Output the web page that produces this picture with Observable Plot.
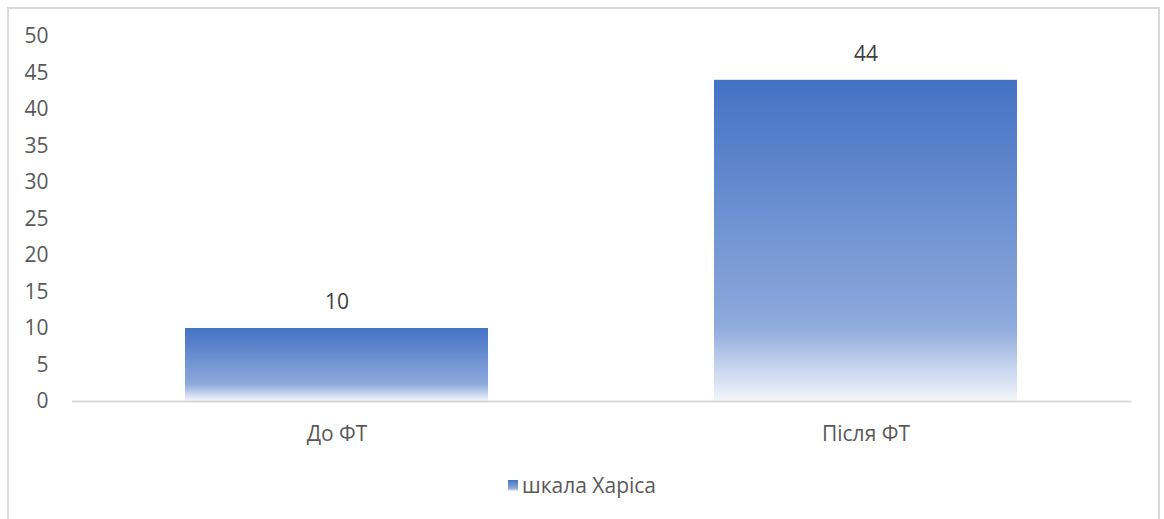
<!DOCTYPE html>
<html>
<head>
<meta charset="utf-8">
<script src="https://cdn.jsdelivr.net/npm/d3@7"></script>
<script src="https://cdn.jsdelivr.net/npm/@observablehq/plot@0.6"></script>
<style>
  html, body { margin: 0; padding: 0; background: #fff; }
  #wrap { position: relative; width: 1164px; height: 519px; overflow: hidden; font-family: "Open Sans", "Noto Sans", sans-serif; }
  #frame { position: absolute; left: 7px; top: 7px; width: 1153px; height: 530px; border: 2px solid #d9d9d9; box-sizing: border-box; }
  #chart { position: absolute; left: 0; top: 0; }
  #legend { position: absolute; left: 0; top: 470px; width: 1164px; height: 30px; display: flex; justify-content: center; align-items: center; color: #595959; font-size: 21px; }
  #legend .sw { width: 10px; height: 11px; margin-right: 4px; background: linear-gradient(#4472C4 0%, #8FAADC 77%, #F2F5FB 100%); }
</style>
</head>
<body>
<div id="wrap">
  <div id="frame"></div>
  <div id="chart"></div>
  <div id="legend"><div class="sw"></div><span id="legendText"></span></div>
</div>
<script>
const categories = ["До ФТ", "Після ФТ"];
const values = [10, 44];
const seriesName = "шкала Харіса";
const yTicks = [0, 5, 10, 15, 20, 25, 30, 35, 40, 45, 50];

const data = categories.map((c, i) => ({category: c, value: values[i]}));

const plot = Plot.plot({
  width: 1164,
  height: 455,
  marginLeft: 72,
  marginRight: 33,
  marginTop: 36,
  marginBottom: 54,
  style: {fontFamily: "'Open Sans', 'Noto Sans', sans-serif", fontSize: "21px", color: "#595959", background: "transparent"},
  x: {domain: categories, paddingInner: 0.427, paddingOuter: 0.2135, label: null},
  y: {domain: [0, 50], label: null},
  marks: [
    Plot.axisY({ticks: yTicks, tickSize: 0, tickPadding: 24, label: null, fontSize: 21, fill: "#595959"}),
    Plot.axisX({tickSize: 0, tickPadding: 25, label: null, fontSize: 21, fill: "#595959"}),
    Plot.barY(data, {x: "category", y: "value", fill: "url(#barGrad)"}),
    Plot.ruleY([0], {stroke: "#d9d9d9", strokeWidth: 2}),
    Plot.text(data, {x: "category", y: "value", text: d => String(d.value), dy: -26, fontSize: 21, fill: "#404040"})
  ]
});

const svg = d3.select(plot);
const defs = svg.insert("defs", ":first-child");
const g = defs.append("linearGradient").attr("id", "barGrad").attr("x1", 0).attr("y1", 0).attr("x2", 0).attr("y2", 1);
g.append("stop").attr("offset", "0%").attr("stop-color", "#4472C4");
g.append("stop").attr("offset", "77%").attr("stop-color", "#8FAADC");
g.append("stop").attr("offset", "100%").attr("stop-color", "#F3F6FB");

document.getElementById("chart").appendChild(plot);
document.getElementById("legendText").textContent = seriesName;
</script>
</body>
</html>
